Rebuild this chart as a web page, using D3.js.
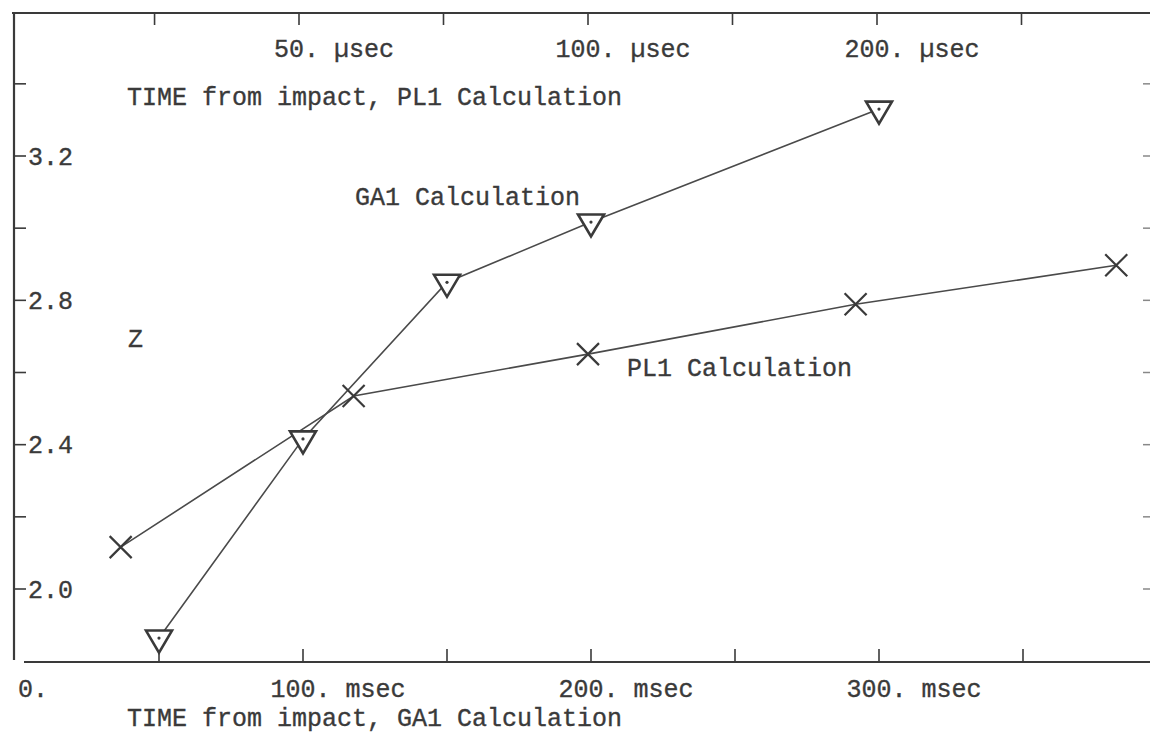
<!DOCTYPE html>
<html>
<head>
<meta charset="utf-8">
<script src="https://cdn.jsdelivr.net/npm/d3@7"></script>
<style>
  html, body { margin: 0; padding: 0; background: #fff; }
  svg { display: block; }
  text { font-family: "Liberation Mono", "DejaVu Sans Mono", monospace; font-size: 25px; fill: #3a3a3a; stroke: #3a3a3a; stroke-width: 0.35px; }
</style>
</head>
<body>
<svg id="chart" width="1150" height="734"></svg>
<script>
// GA1 calculation: time from impact (msec, lower axis) vs Z
const ga1TimeMs = [50, 100, 150, 200, 300];
const ga1Z = [1.864, 2.416, 2.850, 3.017, 3.330];

// PL1 calculation: time from impact (µsec, upper log axis) vs Z
const pl1TimeUs = [32.6, 57, 100, 190, 355];
const pl1Z = [2.116, 2.535, 2.651, 2.789, 2.897];

// Axis ticks and labels
const zTicks = [2.0, 2.2, 2.4, 2.6, 2.8, 3.0, 3.2, 3.4];
const zLabels = ["2.0", "", "2.4", "", "2.8", "", "3.2", ""];
const msTicks = [50, 100, 150, 200, 250, 300, 350];
const msLabels = [[0, "0."], [100, "100. msec"], [200, "200. msec"], [300, "300. msec"]];
const usTicks = [35.36, 50, 70.71, 100, 141.42, 200, 282.84];
const usLabels = [[50, "50. µsec"], [100, "100. µsec"], [200, "200. µsec"]];

const svg = d3.select("#chart");
const ink = "#3a3a3a";

const frameLeft = 14, frameTop = 13, frameBottom = 662, frameRight = 1150;

const xMs = d3.scaleLinear().domain([0, 100]).range([15, 303]);
const xUs = d3.scaleLog().base(2).domain([50, 200]).range([299, 877]);
const y = d3.scaleLinear().domain([2.0, 3.2]).range([589, 156]);

// Frame lines
svg.append("line").attr("x1", frameLeft).attr("x2", frameLeft).attr("y1", frameTop).attr("y2", frameBottom - 2)
  .attr("stroke", ink).attr("stroke-width", 2.2);
svg.append("line").attr("x1", frameLeft - 2).attr("x2", frameRight).attr("y1", frameTop).attr("y2", frameTop)
  .attr("stroke", ink).attr("stroke-width", 2);
svg.append("line").attr("x1", 24).attr("x2", frameRight).attr("y1", frameBottom).attr("y2", frameBottom)
  .attr("stroke", ink).attr("stroke-width", 2);

// Left Z ticks
svg.selectAll(".ztick").data(zTicks).join("line")
  .attr("x1", frameLeft).attr("x2", frameLeft + 12)
  .attr("y1", d => y(d)).attr("y2", d => y(d))
  .attr("stroke", ink).attr("stroke-width", 1.6);
svg.selectAll(".zlab").data(zTicks).join("text")
  .attr("x", frameLeft + 14).attr("y", d => y(d)).attr("dy", "0.35em")
  .text((d, i) => zLabels[i]);

// Right-edge Z ticks
svg.selectAll(".rtick").data(zTicks).join("line")
  .attr("x1", frameRight - 7).attr("x2", frameRight)
  .attr("y1", d => y(d)).attr("y2", d => y(d))
  .attr("stroke", "#888").attr("stroke-width", 1.5);

// Lower msec axis
svg.selectAll(".mstick").data(msTicks).join("line")
  .attr("x1", d => xMs(d)).attr("x2", d => xMs(d))
  .attr("y1", frameBottom).attr("y2", frameBottom - 13)
  .attr("stroke", ink).attr("stroke-width", 1.6);
svg.selectAll(".mslab").data(msLabels).join("text")
  .attr("x", d => d[0] === 0 ? xMs(0) + 3 : xMs(d[0]) + 35)
  .attr("text-anchor", d => d[0] === 0 ? "start" : "middle")
  .attr("y", 697)
  .text(d => d[1]);

// Upper µsec axis
svg.selectAll(".ustick").data(usTicks).join("line")
  .attr("x1", d => xUs(d)).attr("x2", d => xUs(d))
  .attr("y1", frameTop).attr("y2", frameTop + 12)
  .attr("stroke", ink).attr("stroke-width", 1.6);
svg.selectAll(".uslab").data(usLabels).join("text")
  .attr("x", d => xUs(d[0]) + 35).attr("text-anchor", "middle")
  .attr("y", 57)
  .text(d => d[1]);

// Titles and series labels
svg.append("text").attr("x", 127).attr("y", 105).text("TIME from impact, PL1 Calculation");
svg.append("text").attr("x", 127).attr("y", 726).text("TIME from impact, GA1 Calculation");
svg.append("text").attr("x", 128).attr("y", 347).text("Z");
svg.append("text").attr("x", 355).attr("y", 205).text("GA1 Calculation");
svg.append("text").attr("x", 627).attr("y", 376).text("PL1 Calculation");

// Series
const ga1 = ga1TimeMs.map((t, i) => [xMs(t), y(ga1Z[i])]);
const pl1 = pl1TimeUs.map((t, i) => [xUs(t), y(pl1Z[i])]);
const line = d3.line();

svg.append("path").attr("d", line(pl1)).attr("fill", "none")
  .attr("stroke", "#4a4a4a").attr("stroke-width", 1.6);
svg.append("path").attr("d", line(ga1)).attr("fill", "none")
  .attr("stroke", "#4a4a4a").attr("stroke-width", 1.6);

// PL1 markers: crosses
const xs = 11;
svg.selectAll(".cross").data(pl1).join("path")
  .attr("d", d => `M${d[0]-xs},${d[1]-xs}L${d[0]+xs},${d[1]+xs}M${d[0]-xs},${d[1]+xs}L${d[0]+xs},${d[1]-xs}`)
  .attr("stroke", ink).attr("stroke-width", 2.2).attr("fill", "none");

// GA1 markers: inverted triangles with a centre dot
svg.selectAll(".tri").data(ga1).join("path")
  .attr("d", d => `M${d[0]-13},${d[1]-7.5}L${d[0]+13},${d[1]-7.5}L${d[0]},${d[1]+14.5}Z`)
  .attr("stroke", ink).attr("stroke-width", 2.6).attr("fill", "#fff").attr("stroke-linejoin", "miter");
svg.selectAll(".dot").data(ga1).join("circle")
  .attr("cx", d => d[0]).attr("cy", d => d[1]).attr("r", 1.6).attr("fill", ink);
</script>
</body>
</html>
